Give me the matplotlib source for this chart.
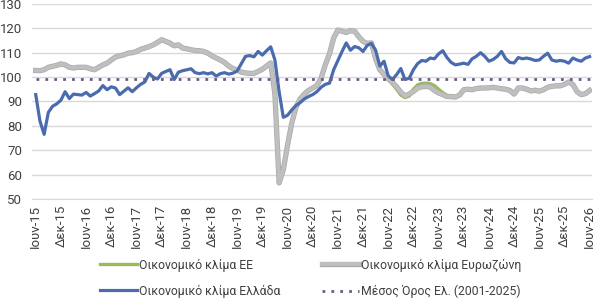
import matplotlib
matplotlib.use("Agg")
import matplotlib.pyplot as plt
import matplotlib.patheffects as pe

plt.rcParams["font.family"] = ["Roboto", "DejaVu Sans"]

# monthly, Ιουν-15 .. Ιουν-26
greece = [
    92.8, 82.0, 76.5, 85.5, 88.0, 89.0, 90.5, 94.0, 91.2, 93.0,
    92.8, 92.6, 93.7, 92.2, 93.2, 94.3, 96.5, 94.8, 96.0, 95.5,
    92.8, 94.2, 95.6, 94.0, 95.6, 97.0, 98.0, 101.5, 100.0, 99.2,
    101.5, 102.3, 103.0, 99.0, 102.0, 102.6, 103.0, 103.4, 101.8, 101.4,
    101.8, 101.3, 101.8, 100.4, 101.4, 101.8, 101.2, 101.6, 102.5, 105.5,
    108.5, 108.8, 108.3, 110.5, 109.0, 110.8, 112.4, 107.0, 94.0, 83.5,
    84.3, 86.5, 88.3, 89.5, 91.0, 92.0, 92.8, 94.0, 95.8, 97.0,
    97.5, 103.0, 106.8, 110.5, 114.0, 111.0, 112.5, 112.0, 110.5, 113.0,
    113.8, 111.0, 104.5, 106.5, 100.5, 99.0, 101.0, 103.5, 99.0, 99.5,
    103.0, 105.5, 106.8, 106.5, 107.8, 107.5, 109.5, 110.8, 108.0, 106.0,
    105.0, 105.3, 105.7, 105.2, 107.5, 108.5, 110.0, 108.5, 106.5, 107.2,
    108.5, 110.5, 107.5, 106.0, 105.8, 108.0, 107.5, 107.8, 107.4, 106.8,
    107.0, 108.5, 109.8, 107.0, 106.5, 106.8, 106.5, 105.7, 107.8, 107.0,
    106.5, 107.8, 108.4,
]

eurozone = [
    102.7, 102.6, 103.0, 104.0, 104.4, 104.8, 105.4, 105.0, 104.0, 103.7,
    104.0, 104.0, 104.0, 103.4, 103.0, 104.0, 105.0, 105.7, 107.0, 108.2,
    108.7, 109.1, 109.8, 110.0, 110.5, 111.4, 111.9, 112.5, 113.2, 114.2,
    115.3, 114.6, 113.9, 112.8, 113.2, 111.9, 111.6, 111.2, 110.9, 110.8,
    110.5, 109.8, 108.7, 107.8, 107.0, 106.0, 104.5, 103.5, 102.8, 102.0,
    101.7, 101.5, 101.5, 102.3, 103.2, 104.5, 105.8, 93.0, 56.6, 62.0,
    72.0, 81.0, 87.5, 91.0, 93.0, 94.5, 95.5, 96.5, 99.5, 105.0,
    109.5, 116.0, 119.3, 118.8, 118.3, 119.0, 118.8, 116.5, 114.6, 113.8,
    114.0, 107.5, 103.0, 101.0, 99.3, 97.8, 96.0, 93.8, 92.3, 93.0,
    94.1, 95.5, 96.0, 96.2, 95.9, 94.5, 93.5, 92.8, 92.0, 92.0,
    91.8, 92.6, 94.8, 95.0, 94.8, 95.3, 95.5, 95.5, 95.6, 95.8,
    95.5, 95.2, 95.0, 94.5, 93.0, 95.5, 95.5, 95.0, 94.3, 94.6,
    94.2, 94.8, 95.8, 96.2, 96.4, 96.4, 97.0, 98.0, 97.0, 94.0,
    92.8, 93.2, 94.5,
]

eu = [
    102.7, 102.6, 103.0, 104.0, 104.4, 104.8, 105.4, 105.0, 104.0, 103.7,
    104.0, 104.0, 104.0, 103.4, 103.0, 104.0, 105.0, 105.7, 107.0, 108.2,
    108.7, 109.1, 109.8, 110.0, 110.5, 111.4, 111.9, 112.5, 113.2, 114.2,
    115.3, 114.6, 113.9, 112.8, 113.2, 111.9, 111.6, 111.2, 110.9, 110.8,
    110.5, 109.8, 108.7, 107.8, 107.0, 106.0, 104.5, 103.5, 102.8, 102.0,
    101.7, 101.5, 101.5, 102.3, 103.2, 104.5, 105.8, 93.0, 56.6, 62.0,
    72.0, 81.0, 87.5, 91.0, 93.0, 94.5, 95.5, 96.5, 99.5, 105.0,
    109.5, 116.0, 119.3, 118.8, 118.3, 119.0, 118.8, 116.5, 114.6, 113.8,
    114.0, 107.5, 103.0, 101.0, 99.0, 97.2, 95.0, 92.6, 91.6, 92.2,
    95.0, 96.8, 97.4, 97.5, 97.3, 96.5, 95.0, 93.6, 92.5, 92.2,
    92.0, 92.6, 94.8, 95.0, 94.8, 95.3, 95.5, 95.5, 95.6, 95.8,
    95.5, 95.2, 95.0, 94.5, 93.0, 95.5, 95.5, 95.0, 94.3, 94.6,
    94.2, 94.8, 95.8, 96.2, 96.4, 96.4, 97.0, 98.0, 97.0, 94.0,
    92.8, 93.2, 94.5,
]

greece_avg = 99.4

tick_labels = [
    "Ιουν-15", "Δεκ-15", "Ιουν-16", "Δεκ-16", "Ιουν-17", "Δεκ-17",
    "Ιουν-18", "Δεκ-18", "Ιουν-19", "Δεκ-19", "Ιουν-20", "Δεκ-20",
    "Ιουν-21", "Δεκ-21", "Ιουν-22", "Δεκ-22", "Ιουν-23", "Δεκ-23",
    "Ιουν-24", "Δεκ-24", "Ιουν-25", "Δεκ-25", "Ιουν-26",
]

months = list(range(len(greece)))

fig = plt.figure(figsize=(6.03, 3.01), dpi=100)
ax = fig.add_axes([0.053, 0.339, 0.929, 0.648])

l_eu, = ax.plot(months, eu, color="#9BBB59", linewidth=2.4, label="Οικονομικό κλίμα ΕΕ", zorder=3)
l_ez, = ax.plot(months, eurozone, color="#BFBFBF", linewidth=2.8, label="Οικονομικό κλίμα Ευρωζώνη", zorder=4,
                path_effects=[pe.withStroke(linewidth=3.8, foreground="#A9A9A9")])
l_gr, = ax.plot(months, greece, color="#4A6BAE", linewidth=2.3, label="Οικονομικό κλίμα Ελλάδα", zorder=5)
l_avg, = ax.plot([months[0], months[-1]], [greece_avg, greece_avg], color="#6E5A84", linewidth=2.0,
                 linestyle=(0, (1, 2.2)), label="Μέσος Όρος Ελ. (2001-2025)", zorder=6)

ax.set_xlim(-0.9, 132.6)
ax.set_ylim(50, 130)
ax.set_yticks(range(50, 131, 10))
ax.set_xticks(months[::6])
ax.set_xticklabels(tick_labels, rotation=90, fontsize=9.5, color="#404040")
ax.tick_params(axis="y", labelsize=9.5, colors="#404040", length=0, pad=7)
ax.tick_params(axis="x", length=0, pad=4)
ax.grid(axis="y", color="#D9D9D9", linewidth=1)
ax.set_axisbelow(True)
for side in ["top", "right", "left"]:
    ax.spines[side].set_visible(False)
ax.spines["bottom"].set_color("#D9D9D9")

handles = [l_eu, l_gr, l_ez, l_avg]
fig.legend(handles, [h.get_label() for h in handles], ncol=2, loc="lower center",
           bbox_to_anchor=(0.515, -0.018), frameon=False, fontsize=8.8,
           handlelength=3.0, handletextpad=0.2, columnspacing=3.4, labelspacing=1.05,
           borderpad=0.2, labelcolor="#404040")

fig.savefig("out.png", dpi=100)
